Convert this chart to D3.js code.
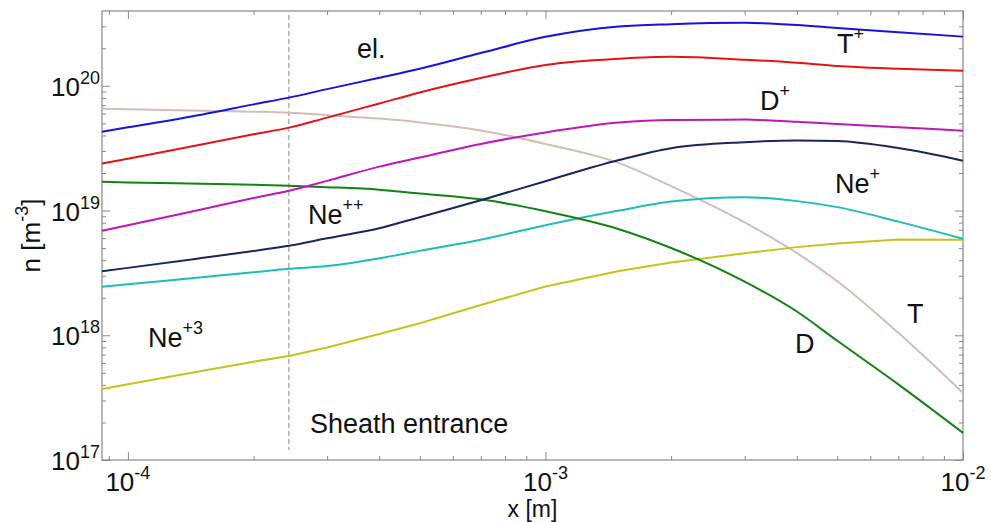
<!DOCTYPE html>
<html>
<head>
<meta charset="utf-8">
<script src="https://cdn.jsdelivr.net/npm/d3@7"></script>
<style>
  body { margin: 0; background: #fff; }
  text { font-family: "Liberation Sans", Arial, sans-serif; fill: #111; }
</style>
</head>
<body>
<div id="chart"></div>
<script>
// x positions (m) where the curves were read
var xs = [8.67e-5, 1e-4, 1.5e-4, 2e-4, 2.43e-4, 3e-4, 4e-4, 5e-4, 7e-4, 1e-3, 1.5e-3, 2e-3, 3e-3, 4e-3, 5e-3, 7e-3, 1e-2];

// densities n [m^-3]
var el   = [4.29e19, 4.65e19, 5.87e19, 7.10e19, 8.04e19, 9.41e19, 1.16e20, 1.37e20, 1.83e20, 2.47e20, 2.99e20, 3.12e20, 3.20e20, 3.08e20, 2.91e20, 2.69e20, 2.48e20];
var tPlus = [2.38e19, 2.60e19, 3.39e19, 4.09e19, 4.62e19, 5.56e19, 7.22e19, 8.85e19, 1.155e20, 1.47e20, 1.65e20, 1.71e20, 1.62e20, 1.53e20, 1.44e20, 1.37e20, 1.32e20];
var dPlus = [6.88e18, 7.63e18, 1.02e19, 1.26e19, 1.44e19, 1.73e19, 2.25e19, 2.66e19, 3.42e19, 4.23e19, 5.07e19, 5.32e19, 5.36e19, 5.14e19, 4.95e19, 4.66e19, 4.37e19];
var tNeut = [6.56e19, 6.50e19, 6.32e19, 6.21e19, 6.09e19, 5.82e19, 5.46e19, 5.09e19, 4.39e19, 3.42e19, 2.40e19, 1.57e19, 8.03e18, 4.57e18, 2.71e18, 1.046e18, 3.45e17];
var dNeut = [1.70e19, 1.68e19, 1.64e19, 1.61e19, 1.58e19, 1.54e19, 1.47e19, 1.37e19, 1.23e19, 9.87e18, 7.09e18, 5.01e18, 2.69e18, 1.55e18, 9.03e17, 4.04e17, 1.65e17];
var ne2  = [3.26e18, 3.47e18, 4.16e18, 4.74e18, 5.22e18, 5.99e18, 7.21e18, 8.85e18, 1.21e19, 1.72e19, 2.54e19, 3.16e19, 3.53e19, 3.65e19, 3.61e19, 3.17e19, 2.51e19];
var ne1  = [2.45e18, 2.56e18, 2.92e18, 3.20e18, 3.41e18, 3.59e18, 4.14e18, 4.75e18, 5.83e18, 7.63e18, 1.00e19, 1.18e19, 1.28e19, 1.19e19, 1.065e19, 8.15e18, 5.94e18];
var ne3  = [3.71e17, 4.05e17, 5.18e17, 6.14e17, 6.83e17, 7.97e17, 1.024e18, 1.25e18, 1.75e18, 2.46e18, 3.28e18, 3.83e18, 4.54e18, 5.09e18, 5.45e18, 5.86e18, 5.83e18];

var xExps = [-4, -3, -2];
var yExps = [17, 18, 19, 20];
var sheathX = 2.43e-4;

var width = 991, height = 522;
var pLeft = 102, pRight = 963, pTop = 11, pBottom = 460;

var svg = d3.select("#chart")
  .append("svg")
    .attr("width", width)
    .attr("height", height);

var x = d3.scaleLog().domain([8.67e-5, 1e-2]).range([pLeft, pRight]);
var y = d3.scaleLog().domain([1e17, 3.98e20]).range([pBottom, pTop]);

// major / minor tick values
var xMajor = xExps.map(function (e) { return Math.pow(10, e); });
var xMinor = [];
[-5, -4, -3].forEach(function (e) {
  for (var k = 2; k <= 9; k++) {
    var v = k * Math.pow(10, e);
    if (v > 8.67e-5 && v < 1e-2) xMinor.push(v);
  }
});
var yMajor = yExps.map(function (e) { return Math.pow(10, e); });
var yMinor = [];
[17, 18, 19, 20].forEach(function (e) {
  for (var k = 2; k <= 9; k++) {
    var v = k * Math.pow(10, e);
    if (v < 3.98e20) yMinor.push(v);
  }
});

function ticks(axis, tx, ty, vals, size) {
  var g = svg.append("g")
    .attr("transform", "translate(" + tx + "," + ty + ")")
    .call(axis.tickValues(vals).tickSize(-size).tickFormat(""));
  g.select(".domain").remove();
  g.selectAll("line").attr("stroke", "#888");
}
ticks(d3.axisBottom(x), 0, pBottom, xMajor, 8);
ticks(d3.axisBottom(x), 0, pBottom, xMinor, 4);
ticks(d3.axisTop(x), 0, pTop, xMajor, 8);
ticks(d3.axisTop(x), 0, pTop, xMinor, 4);
ticks(d3.axisLeft(y), pLeft, 0, yMajor, 8);
ticks(d3.axisLeft(y), pLeft, 0, yMinor, 4);
ticks(d3.axisRight(y), pRight, 0, yMajor, 8);
ticks(d3.axisRight(y), pRight, 0, yMinor, 4);

// frame
svg.append("rect")
  .attr("x", pLeft).attr("y", pTop)
  .attr("width", pRight - pLeft).attr("height", pBottom - pTop)
  .attr("fill", "none").attr("stroke", "#888").attr("stroke-width", 1.2);

// sheath entrance line
svg.append("line")
  .attr("x1", x(sheathX)).attr("x2", x(sheathX))
  .attr("y1", 15).attr("y2", 450)
  .attr("stroke", "#888").attr("stroke-width", 1)
  .attr("stroke-dasharray", "5,3");

// curves
var series = [
  {vals: tNeut, color: "#d6bcb8", curve: d3.curveMonotoneX},
  {vals: ne3,   color: "#c4c41e", curve: d3.curveLinear},
  {vals: ne1,   color: "#1ebcbc", curve: d3.curveMonotoneX},
  {vals: dNeut, color: "#148214", curve: d3.curveMonotoneX},
  {vals: ne2,   color: "#16265e", curve: d3.curveMonotoneX},
  {vals: dPlus, color: "#bc18bc", curve: d3.curveMonotoneX},
  {vals: tPlus, color: "#e41414", curve: d3.curveMonotoneX},
  {vals: el,    color: "#1414dc", curve: d3.curveMonotoneX}
];

series.forEach(function (s) {
  var line = d3.line()
    .x(function (d, i) { return x(xs[i]); })
    .y(function (d) { return y(d); })
    .curve(s.curve);
  svg.append("path")
    .datum(s.vals)
    .attr("fill", "none")
    .attr("stroke", s.color)
    .attr("stroke-width", 2)
    .attr("d", line);
});

// tick labels with superscripts
svg.selectAll(".xlab")
  .data(xExps)
  .enter()
  .append("text")
    .attr("class", "xlab")
    .attr("x", function (d) { return x(Math.pow(10, d)); })
    .attr("y", 491)
    .attr("text-anchor", "middle")
    .attr("font-size", 26)
    .each(function (d) {
      var t = d3.select(this);
      t.append("tspan").text("10");
      t.append("tspan").attr("dy", -12).attr("font-size", 18).text(d);
    });

svg.selectAll(".ylab")
  .data(yExps)
  .enter()
  .append("text")
    .attr("class", "ylab")
    .attr("x", 100)
    .attr("y", function (d) { return y(Math.pow(10, d)) + 10; })
    .attr("text-anchor", "end")
    .attr("font-size", 26)
    .each(function (d) {
      var t = d3.select(this);
      t.append("tspan").text("10");
      t.append("tspan").attr("dy", -12).attr("font-size", 18).text(d);
    });

// axis titles
svg.append("text")
  .attr("x", (pLeft + pRight) / 2)
  .attr("y", 517)
  .attr("text-anchor", "middle")
  .attr("font-size", 23)
  .text("x [m]");

var yt = svg.append("text")
  .attr("transform", "translate(40," + ((pTop + pBottom) / 2) + ") rotate(-90)")
  .attr("text-anchor", "middle")
  .attr("font-size", 26);
yt.append("tspan").text("n [m");
yt.append("tspan").attr("dy", -12).attr("font-size", 18).text("-3");
yt.append("tspan").attr("dy", 12).text("]");

// curve annotations
var notes = [
  {t: "el.", s: "", x: 357, y: 58},
  {t: "T", s: "+", x: 837, y: 53},
  {t: "D", s: "+", x: 760, y: 110},
  {t: "Ne", s: "+", x: 835, y: 193},
  {t: "Ne", s: "++", x: 308, y: 224},
  {t: "Ne", s: "+3", x: 148, y: 347},
  {t: "T", s: "", x: 907, y: 323},
  {t: "D", s: "", x: 795, y: 353},
  {t: "Sheath entrance", s: "", x: 310, y: 433}
];

notes.forEach(function (n) {
  var t = svg.append("text")
    .attr("x", n.x).attr("y", n.y)
    .attr("font-size", 27);
  t.append("tspan").text(n.t);
  if (n.s) t.append("tspan").attr("dy", -13).attr("font-size", 18).text(n.s);
});
</script>
</body>
</html>
